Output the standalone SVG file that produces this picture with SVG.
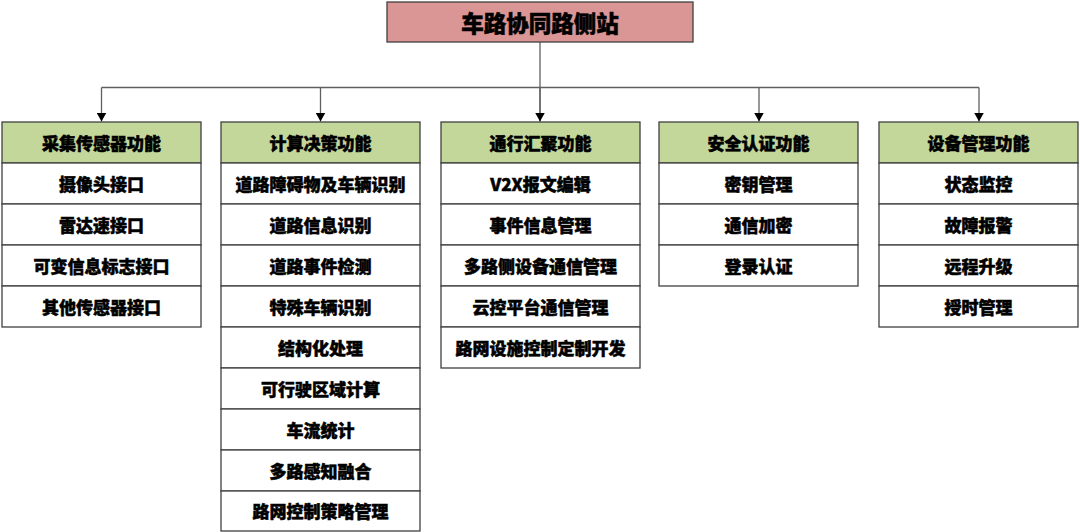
<svg xmlns="http://www.w3.org/2000/svg" width="1080" height="532" viewBox="0 0 1080 532">
<style>
.t{font-family:"Noto Sans CJK SC","Liberation Sans",sans-serif;font-weight:900;fill:#000;stroke:#000;stroke-width:0.5;text-anchor:middle;dominant-baseline:central}
.it{font-size:17px}
.hd{fill:#C4D79B;stroke:#404040;stroke-width:1.3}
.cell{fill:#fff;stroke:#404040;stroke-width:1.3}
.ln{fill:none;stroke:#606060;stroke-width:1.3}
</style>
<defs>
<marker id="ah" markerWidth="10" markerHeight="10" refX="9" refY="5" orient="auto" markerUnits="userSpaceOnUse" viewBox="0 0 10 10">
<path d="M0,0 L9,5 L0,10 Z" fill="#000"/>
</marker>
</defs>
<rect width="1080" height="532" fill="#fff"/>
<g id="connectors">
<path class="ln" d="M540,42 V121.5"/>
<path class="ln" d="M101.5,87.5 H979"/>
<path class="ln" d="M101.5,87.5 V121.5" marker-end="url(#ah)"/>
<path class="ln" d="M320.5,87.5 V121.5" marker-end="url(#ah)"/>
<path class="ln" d="M540,87.5 V121.5" marker-end="url(#ah)"/>
<path class="ln" d="M759,87.5 V121.5" marker-end="url(#ah)"/>
<path class="ln" d="M979,87.5 V121.5" marker-end="url(#ah)"/>
</g>
<g id="root">
<rect x="387" y="2" width="306" height="40" fill="#DA9694" stroke="#404040" stroke-width="1.3"/>
<text class="t" x="540" y="22" font-size="22.5">车路协同路侧站</text>
</g>
<g id="col1">
<rect class="hd" x="2" y="122" width="199" height="41"/>
<text class="t it" x="101.5" y="142">采集传感器功能</text>
<rect class="cell" x="2" y="163" width="199" height="41"/><text class="t it" x="101.5" y="183">摄像头接口</text>
<rect class="cell" x="2" y="204" width="199" height="41"/><text class="t it" x="101.5" y="224">雷达速接口</text>
<rect class="cell" x="2" y="245" width="199" height="41"/><text class="t it" x="101.5" y="265">可变信息标志接口</text>
<rect class="cell" x="2" y="286" width="199" height="41"/><text class="t it" x="101.5" y="306">其他传感器接口</text>
</g>
<g id="col2">
<rect class="hd" x="221" y="122" width="199" height="41"/>
<text class="t it" x="320.5" y="142">计算决策功能</text>
<rect class="cell" x="221" y="163" width="199" height="41"/><text class="t it" x="320.5" y="183">道路障碍物及车辆识别</text>
<rect class="cell" x="221" y="204" width="199" height="41"/><text class="t it" x="320.5" y="224">道路信息识别</text>
<rect class="cell" x="221" y="245" width="199" height="41"/><text class="t it" x="320.5" y="265">道路事件检测</text>
<rect class="cell" x="221" y="286" width="199" height="41"/><text class="t it" x="320.5" y="306">特殊车辆识别</text>
<rect class="cell" x="221" y="327" width="199" height="41"/><text class="t it" x="320.5" y="347">结构化处理</text>
<rect class="cell" x="221" y="368" width="199" height="41"/><text class="t it" x="320.5" y="388">可行驶区域计算</text>
<rect class="cell" x="221" y="409" width="199" height="41"/><text class="t it" x="320.5" y="429">车流统计</text>
<rect class="cell" x="221" y="450" width="199" height="41"/><text class="t it" x="320.5" y="470">多路感知融合</text>
<rect class="cell" x="221" y="491" width="199" height="40"/><text class="t it" x="320.5" y="510.5">路网控制策略管理</text>
</g>
<g id="col3">
<rect class="hd" x="441" y="122" width="199" height="41"/>
<text class="t it" x="540.5" y="142">通行汇聚功能</text>
<rect class="cell" x="441" y="163" width="199" height="41"/><text class="t it" x="540.5" y="183">V2X报文编辑</text>
<rect class="cell" x="441" y="204" width="199" height="41"/><text class="t it" x="540.5" y="224">事件信息管理</text>
<rect class="cell" x="441" y="245" width="199" height="41"/><text class="t it" x="540.5" y="265">多路侧设备通信管理</text>
<rect class="cell" x="441" y="286" width="199" height="41"/><text class="t it" x="540.5" y="306">云控平台通信管理</text>
<rect class="cell" x="441" y="327" width="199" height="41"/><text class="t it" x="540.5" y="347">路网设施控制定制开发</text>
</g>
<g id="col4">
<rect class="hd" x="659" y="122" width="199" height="41"/>
<text class="t it" x="758.5" y="142">安全认证功能</text>
<rect class="cell" x="659" y="163" width="199" height="41"/><text class="t it" x="758.5" y="183">密钥管理</text>
<rect class="cell" x="659" y="204" width="199" height="41"/><text class="t it" x="758.5" y="224">通信加密</text>
<rect class="cell" x="659" y="245" width="199" height="41"/><text class="t it" x="758.5" y="265">登录认证</text>
</g>
<g id="col5">
<rect class="hd" x="879" y="122" width="199" height="41"/>
<text class="t it" x="978.5" y="142">设备管理功能</text>
<rect class="cell" x="879" y="163" width="199" height="41"/><text class="t it" x="978.5" y="183">状态监控</text>
<rect class="cell" x="879" y="204" width="199" height="41"/><text class="t it" x="978.5" y="224">故障报警</text>
<rect class="cell" x="879" y="245" width="199" height="41"/><text class="t it" x="978.5" y="265">远程升级</text>
<rect class="cell" x="879" y="286" width="199" height="41"/><text class="t it" x="978.5" y="306">授时管理</text>
</g>
</svg>
